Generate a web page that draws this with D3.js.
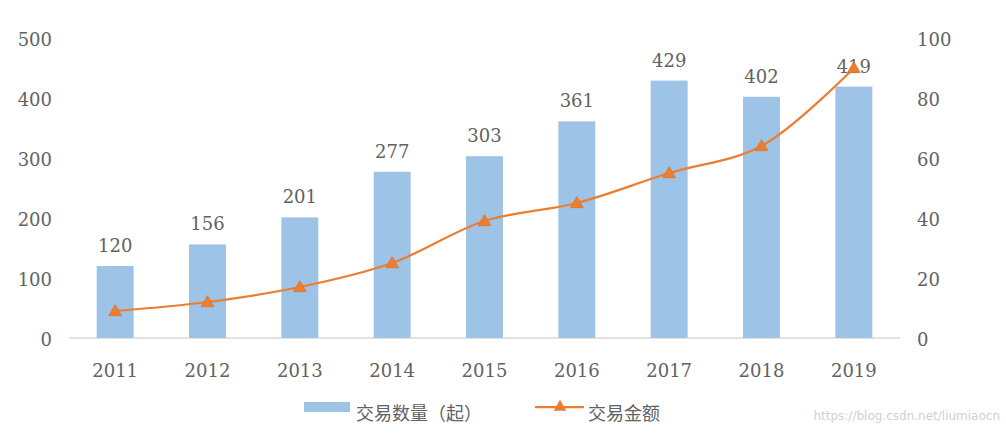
<!DOCTYPE html>
<html><head><meta charset="utf-8">
<script src="https://cdn.jsdelivr.net/npm/d3@7"></script>
<style>body{margin:0;background:#fff}svg{display:block}</style>
</head><body>
<svg id="c" width="1006" height="438"></svg>
<script>
const years = ["2011","2012","2013","2014","2015","2016","2017","2018","2019"];
const dealCount = [120,156,201,277,303,361,429,402,419];
const dealAmount = [9,12,17,25,39,45,55,64,90];
const leftTicks = [0,100,200,300,400,500];
const rightTicks = [0,20,40,60,80,100];
const legendNames = ["交易数量（起）","交易金额"];

const svg = d3.select("#c");
const W = 1006, H = 438;
const m = {left:69, right:106, top:38, bottom:100};
const x = d3.scaleBand().domain(years).range([m.left, W-m.right]).paddingInner(0.6).paddingOuter(0.3);
const yL = d3.scaleLinear().domain([0,500]).range([338,38]);
const yR = d3.scaleLinear().domain([0,100]).range([338,38]);
const serif = "'DejaVu Serif', serif";
const txt = "#626262";

// baseline
svg.append("line").attr("x1",m.left).attr("x2",W-m.right).attr("y1",yL(0)).attr("y2",yL(0))
  .attr("stroke","#D9D9D9").attr("stroke-width",1.5);

// bars
svg.selectAll("rect.bar").data(dealCount).join("rect").attr("class","bar")
  .attr("x",(d,i)=>x(years[i])).attr("width",x.bandwidth())
  .attr("y",d=>yL(d)).attr("height",d=>yL(0)-yL(d)).attr("fill","#9DC3E6");

// bar labels
svg.selectAll("text.bl").data(dealCount).join("text").attr("class","bl")
  .attr("x",(d,i)=>x(years[i])+x.bandwidth()/2).attr("y",d=>yL(d)-14)
  .attr("text-anchor","middle").attr("font-family",serif).attr("font-size",18).attr("fill",txt)
  .text(d=>d);

// left axis
const axL = d3.axisLeft(yL).tickValues(leftTicks).tickSize(0).tickPadding(0);
const gL = svg.append("g").attr("transform","translate(52,0)").call(axL);
gL.select(".domain").remove();
gL.selectAll("text").attr("font-family",serif).attr("font-size",18).attr("fill",txt).attr("dy","0.42em");

// right axis
const axR = d3.axisRight(yR).tickValues(rightTicks).tickSize(0).tickPadding(0);
const gR = svg.append("g").attr("transform","translate(917,0)").call(axR);
gR.select(".domain").remove();
gR.selectAll("text").attr("font-family",serif).attr("font-size",18).attr("fill",txt).attr("dy","0.42em");

// x axis
const axX = d3.axisBottom(x).tickSize(0).tickPadding(0);
const gX = svg.append("g").attr("transform","translate(0,370)").call(axX);
gX.select(".domain").remove();
gX.selectAll("text").attr("font-family",serif).attr("font-size",18).attr("fill",txt).attr("dy","0.38em");

// line
const cx = (d,i)=>x(years[i])+x.bandwidth()/2;
const line = d3.line().x(cx).y(d=>yR(d)).curve(d3.curveCatmullRom.alpha(0.5));
svg.append("path").datum(dealAmount).attr("d",line).attr("fill","none")
  .attr("stroke","#ED7D31").attr("stroke-width",2.25);
const tri = d3.symbol().type(d3.symbolTriangle).size(70);
svg.selectAll("path.mk").data(dealAmount).join("path").attr("class","mk")
  .attr("transform",(d,i)=>`translate(${cx(d,i)},${yR(d)+1})`).attr("d",tri)
  .attr("fill","#ED7D31").attr("stroke","#E0702A").attr("stroke-width",0.8);

// legend
const cjk = "'Noto Sans CJK SC', sans-serif";
svg.append("rect").attr("x",304).attr("y",402).attr("width",46).attr("height",10).attr("fill","#9DC3E6");
svg.append("text").attr("x",356).attr("y",420).attr("font-family",cjk).attr("font-size",18).attr("fill",txt).text(legendNames[0]);
svg.append("line").attr("x1",535).attr("x2",584).attr("y1",407).attr("y2",407).attr("stroke","#ED7D31").attr("stroke-width",2.25);
svg.append("path").attr("transform","translate(560,407)").attr("d",tri).attr("fill","#ED7D31");
svg.append("text").attr("x",588).attr("y",420).attr("font-family",cjk).attr("font-size",18).attr("fill",txt).text(legendNames[1]);

// watermark text
svg.append("text").attr("x",1000).attr("y",420).attr("text-anchor","end")
  .attr("font-family","'DejaVu Sans', sans-serif").attr("font-size",12).attr("fill","#d0d0d0")
  .text("https://blog.csdn.net/liumiaocn");
</script>
</body></html>
